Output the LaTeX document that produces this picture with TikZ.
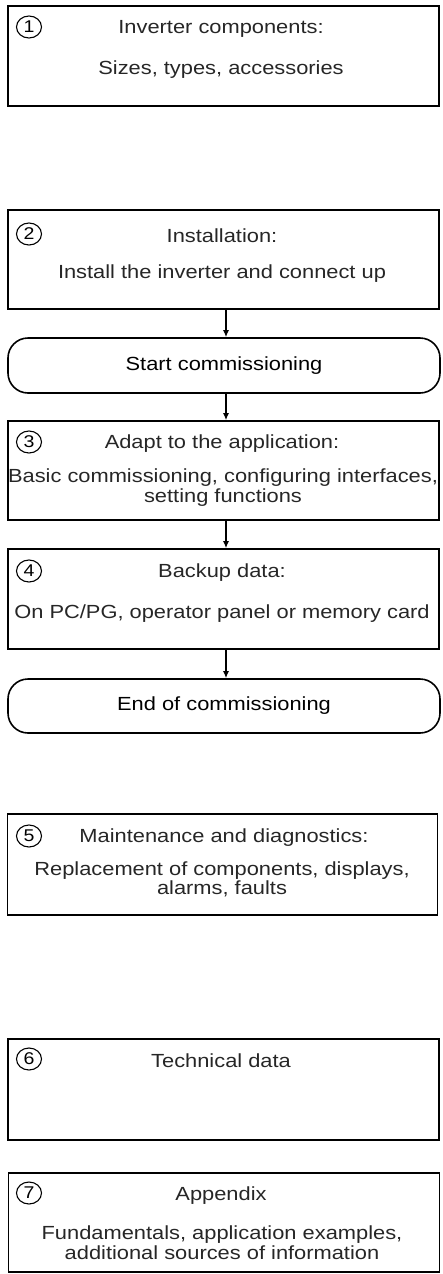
\documentclass[tikz,border=0pt]{standalone}
\usepackage{fontspec}
\setmainfont{Liberation Sans}[FakeStretch=1.15]
\usetikzlibrary{arrows.meta,shapes.geometric}
\begin{document}
\begin{tikzpicture}[x=1pt,y=-1pt,
  box/.style={draw, line width=1.6pt, minimum width=431pt, inner sep=0pt},
  oval/.style={draw, line width=1.6pt, rounded corners=20pt, minimum width=432pt, inner sep=0pt,
    font=\fontsize{19}{19.5}\selectfont},
  txt/.style={font=\fontsize{19}{19.5}\selectfont, align=center, inner sep=0pt, text=black!85},
  num/.style={draw, ellipse, line width=1.1pt, minimum width=25pt, minimum height=22pt, inner sep=0pt,
    font=\fontsize{17}{17}\selectfont},
  arr/.style={-{Latex[length=7pt,width=6pt]}, line width=1.3pt}]
\useasboundingbox (0,0) rectangle (442,1274);
% 1
\node[box, minimum height=100pt] (b1) at (223.5,56) {};
\node[num] (n1) at (29,27) {1};
\node[txt] (t1) at (221,29) {Inverter components:};
\node[txt] (d1) at (221,70) {Sizes, types, accessories};
% 2
\node[box, minimum height=99pt] (b2) at (223.5,259.5) {};
\node[num] (n2) at (29,234) {2};
\node[txt] (t2) at (222,236) {Installation:};
\node[txt] (d2) at (222,274) {Install the inverter and connect up};
% start
\node[oval, minimum height=55pt] (s) at (224,365.5) {Start commissioning};
% 3
\node[box, minimum height=99pt] (b3) at (223.5,470.5) {};
\node[num] (n3) at (29,442) {3};
\node[txt] (t3) at (222,444) {Adapt to the application:};
\node[txt] (d3) at (223,487.5) {Basic commissioning, configuring interfaces,\\setting functions};
% 4
\node[box, minimum height=100pt] (b4) at (223.5,599) {};
\node[num] (n4) at (29,571) {4};
\node[txt] (t4) at (222,573) {Backup data:};
\node[txt] (d4) at (222,614) {On PC/PG, operator panel or memory card};
% end
\node[oval, minimum height=54pt] (e) at (224,706) {End of commissioning};
% 5
\node[box, minimum height=101pt, minimum width=430pt] (b5) at (222.5,864.5) {};
\node[num] (n5) at (29,836) {5};
\node[txt] (t5) at (224,838) {Maintenance and diagnostics:};
\node[txt] (d5) at (222,879.5) {Replacement of components, displays,\\alarms, faults};
% 6
\node[box, minimum height=101pt] (b6) at (223.5,1089.5) {};
\node[num] (n6) at (29,1059) {6};
\node[txt] (t6) at (221,1061) {Technical data};
% 7
\node[box, minimum height=99pt] (b7) at (224,1222.5) {};
\node[num] (n7) at (29,1193) {7};
\node[txt] (t7) at (221,1196) {Appendix};
\node[txt] (d7) at (222,1242.5) {Fundamentals, application examples,\\additional sources of information};
% arrows
\draw[arr] ([xshift=2.5pt]b2.south) -- ([xshift=2pt]s.north);
\draw[arr] ([xshift=2pt]s.south) -- ([xshift=2.5pt]b3.north);
\draw[arr] ([xshift=2.5pt]b3.south) -- ([xshift=2.5pt]b4.north);
\draw[arr] ([xshift=2.5pt]b4.south) -- ([xshift=2pt]e.north);
\end{tikzpicture}
\end{document}
